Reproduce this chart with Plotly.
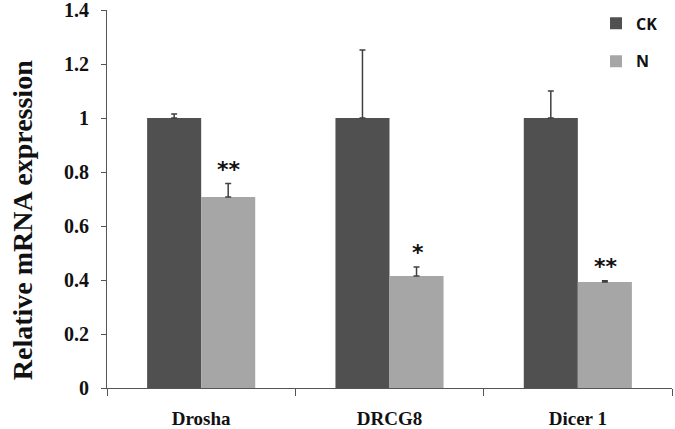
import plotly.graph_objects as go

categories = ["Drosha", "DRCG8", "Dicer 1"]
ck_values = [1.0, 1.0, 1.0]
ck_errors = [0.015, 0.252, 0.10]
n_values = [0.707, 0.415, 0.393]
n_errors = [0.05, 0.033, 0.004]
n_marks = ["**", "*", "**"]
y_ticks = [0, 0.2, 0.4, 0.6, 0.8, 1, 1.2, 1.4]

xpos = list(range(len(categories)))

fig = go.Figure()
fig.add_trace(go.Bar(
    x=xpos, y=ck_values, name="<b>CK</b>", legendgroup="ck",
    marker=dict(color="#505050", line=dict(width=0)),
    error_y=dict(type="data", array=ck_errors, symmetric=False, arrayminus=[0]*3,
                 color="#404040", thickness=1.5, width=3),
))
fig.add_trace(go.Bar(
    x=xpos, y=n_values, name="<b>N</b>", legendgroup="n",
    marker=dict(color="#a6a6a6", line=dict(width=0)),
    error_y=dict(type="data", array=n_errors, symmetric=False, arrayminus=[0]*3,
                 color="#404040", thickness=1.5, width=3),
))

for i, (v, e, m) in enumerate(zip(n_values, n_errors, n_marks)):
    fig.add_annotation(x=i, y=v + e, text="<b>" + m + "</b>", showarrow=False,
                       xshift=28, yanchor="bottom", yshift=0,
                       font=dict(family="DejaVu Sans", size=22, color="#111111"))

fig.add_annotation(text="<b>Relative mRNA expression</b>", textangle=-90,
                   xref="paper", yref="paper", x=0, y=0.444, xanchor="center",
                   yanchor="middle", xshift=-85, showarrow=False,
                   font=dict(family="Liberation Serif", size=28, color="#111111"))

fig.update_layout(
    width=675, height=429,
    margin=dict(l=107, r=3, t=10, b=41, autoexpand=False),
    paper_bgcolor="white", plot_bgcolor="white",
    barmode="group", bargap=0.426, bargroupgap=0,
    showlegend=True,
    legend=dict(xref="container", yref="container", x=0.883, y=0.985,
                xanchor="left", yanchor="top",
                font=dict(family="Open Sans", size=16, color="#111111"),
                tracegroupgap=14, bgcolor="rgba(0,0,0,0)"),
)
fig.update_xaxes(
    range=[-0.5, 2.5], tickvals=xpos, ticktext=[f"<b>{c}</b>" for c in categories],
    ticks="", showgrid=False, zeroline=False, automargin=False,
    showline=True, linecolor="#555555", linewidth=1.2,
    tickfont=dict(family="Liberation Serif", size=19, color="#111111"),
    ticklabelstandoff=13, ticklabeloverflow="allow",
    minor=dict(ticks="outside", tick0=-0.5, dtick=1, ticklen=7,
               tickcolor="#555555", tickwidth=1.2, showgrid=False),
)
fig.update_yaxes(
    range=[0, 1.4001], tickvals=y_ticks, ticktext=[f"<b>{t:g}</b>" for t in y_ticks],
    ticks="outside", ticklen=5, tickcolor="#555555", tickwidth=1.2,
    showgrid=False, zeroline=False, automargin=False,
    showline=True, linecolor="#555555", linewidth=1.2,
    tickfont=dict(family="Liberation Serif", size=20, color="#111111"),
    ticklabelstandoff=8, ticklabeloverflow="allow",
)

fig.write_html("out.html", config={"displayModeBar": False},
               post_script="document.body.style.margin='0';document.body.style.overflow='hidden';")
